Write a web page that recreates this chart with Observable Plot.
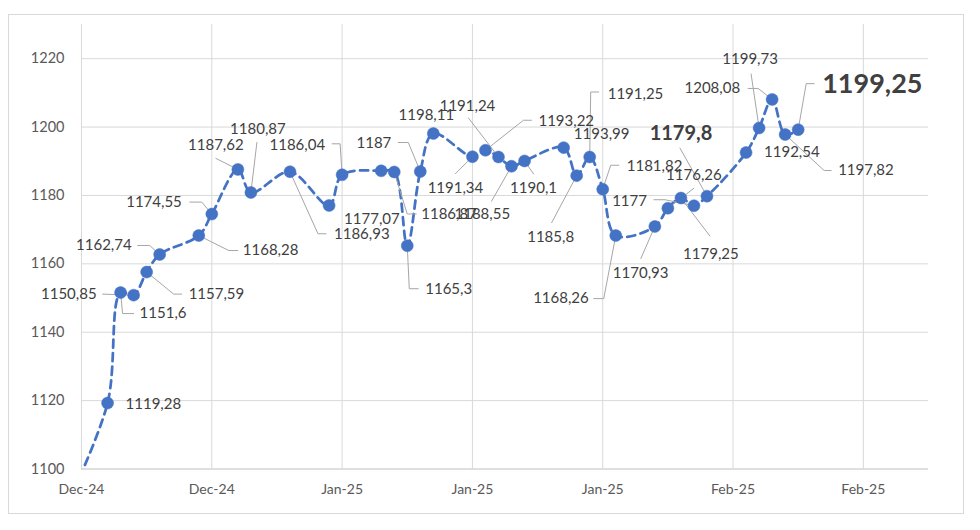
<!DOCTYPE html>
<html>
<head>
<meta charset="utf-8">
<script src="https://cdn.jsdelivr.net/npm/d3@7"></script>
<script src="https://cdn.jsdelivr.net/npm/@observablehq/plot@0.6"></script>
<style>
  html, body { margin: 0; padding: 0; background: #fff; }
  #wrap { position: relative; width: 980px; height: 530px; overflow: hidden; }
  #frame { position: absolute; left: 8px; top: 14px; width: 956px; height: 500px; border: 1.5px solid #d9d9d9; box-sizing: border-box; }
  #chart { position: absolute; left: 0; top: 0; }
  svg { max-width: none !important; }
</style>
</head>
<body>
<div id="wrap"><div id="frame"></div><div id="chart"></div></div>
<script>
// ---- data ----
const dates = ["2024-12-13","2024-12-16","2024-12-17","2024-12-18","2024-12-19","2024-12-20",
  "2024-12-23","2024-12-24","2024-12-26","2024-12-27","2024-12-30","2025-01-02","2025-01-03",
  "2025-01-06","2025-01-07","2025-01-08","2025-01-09","2025-01-10","2025-01-13","2025-01-14",
  "2025-01-15","2025-01-16","2025-01-17","2025-01-20","2025-01-21","2025-01-22","2025-01-23",
  "2025-01-24","2025-01-27","2025-01-28","2025-01-29","2025-01-30","2025-01-31","2025-02-03",
  "2025-02-04","2025-02-05","2025-02-06","2025-02-07"];
const values = [1090.4,1119.28,1151.6,1150.85,1157.59,1162.74,
  1168.28,1174.55,1187.62,1180.87,1186.93,1177.07,1186.04,
  1187.2,1186.87,1165.3,1187,1198.11,1191.34,1193.22,
  1191.24,1188.55,1190.1,1193.99,1185.8,1191.25,1181.82,
  1168.26,1170.93,1176.26,1179.25,1177,1179.8,1192.54,
  1199.73,1208.08,1197.82,1199.25];
const xTickDates = ["2024-12-14","2024-12-24","2025-01-03","2025-01-13","2025-01-23","2025-02-02","2025-02-12"];
const xTickLabels = ["Dec-24","Dec-24","Jan-25","Jan-25","Jan-25","Feb-25","Feb-25"];
const yTicks = [1100,1120,1140,1160,1180,1200,1220];

// ---- label layout (pixel offsets from each point; null = no label) ----
const labelLayout = [
 null,
 {dx:18, dy:1, a:"start"},
 {dx:19, dy:21, a:"start", L:[[0,0],[2,21],[13,21]]},
 {dx:-37, dy:-1, a:"end", L:[[0,0],[-31,-1]]},
 {dx:42, dy:22, a:"start", L:[[0,0],[27,22],[35,22]]},
 {dx:-28, dy:-9, a:"end", L:[[0,0],[-10,-9],[-22,-9]]},
 {dx:44, dy:15, a:"start", L:[[0,0],[30,15],[39,15]]},
 {dx:-30, dy:-12, a:"end", L:[[0,0],[-10,-12],[-22,-12]]},
 {dx:-22, dy:-24, a:"middle", L:[[0,0],[-22,-11]]},
 {dx:7, dy:-63, a:"middle", L:[[0,0],[6,-50]]},
 {dx:44, dy:62, a:"start", L:[[0,0],[28,62],[36,62]]},
 {dx:15, dy:14, a:"start"},
 {dx:-17, dy:-30, a:"end", L:[[0,0],[-2,-31],[-10,-31]]},
 null,
 {dx:27, dy:42, a:"start", L:[[0,0],[13,42],[22,42]]},
 {dx:18, dy:43, a:"start", L:[[0,0],[2,43],[11,43]]},
 {dx:-29, dy:-28, a:"end", L:[[0,0],[-12,-29],[-22,-29]]},
 {dx:-7, dy:-18, a:"middle"},
 {dx:-17, dy:32, a:"middle", L:[[0,0],[-17,17]]},
 {dx:53, dy:-29, a:"start", L:[[0,0],[38,-30],[46,-30]]},
 {dx:-31, dy:-51, a:"middle", L:[[0,0],[-30,-39]]},
 {dx:-57, dy:48, a:"start", L:[[0,0],[-20,35]]},
 {dx:9, dy:27, a:"middle", L:[[0,0],[9,13]]},
 {dx:38, dy:-13, a:"middle"},
 {dx:-26, dy:62, a:"middle", L:[[0,0],[-25,47]]},
 {dx:18, dy:-63, a:"start", L:[[0,0],[1,-65],[9,-65]]},
 {dx:24, dy:-23, a:"start", L:[[0,0],[8,-24],[16,-24]]},
 {dx:-27, dy:63, a:"end", L:[[0,0],[-12,63],[-22,63]]},
 {dx:-42, dy:47, a:"start", L:[[0,0],[-14,32]]},
 {dx:26, dy:-33, a:"middle", L:[[0,0],[26,-20]]},
 {dx:30, dy:56, a:"middle", L:[[0,0],[29,38]]},
 {dx:-47, dy:-5, a:"end", L:[[0,0],[-29,-6],[-40,-6]]},
 {dx:-26, dy:-63, a:"middle", L:[[0,0],[-27,-48]], b:20},
 {dx:18, dy:0, a:"start"},
 {dx:-9, dy:-69, a:"middle", L:[[0,0],[-8,-54]]},
 {dx:-32, dy:-11, a:"end", L:[[0,0],[-14,-11],[-24,-11]]},
 {dx:53, dy:36, a:"start", L:[[0,0],[39,36],[46,36]]},
 {dx:24, dy:-45, a:"start", L:[[0,0],[8,-46],[16,-46]], b:27}
];

// ---- build ----
const W = 980, H = 530, mt = 24, mr = 52, mb = 61.5, ml = 81;
const x0 = new Date("2024-12-14"), x1 = new Date("2025-02-17");
const yDom = [1100, 1230];
const blue = "#4472C4";

const pts = dates.map((d, i) => ({date: new Date(d), value: values[i], i}));
const visible = pts.filter(p => p.date >= x0);

// mirror of the plot's scales to turn pixel offsets into data positions
const xs = d3.scaleUtc([x0, x1], [ml, W - mr]);
const ys = d3.scaleLinear(yDom, [H - mb, mt]);
const fmt = v => String(v).replace(".", ",");

const labelRows = [], leaderRows = [];
pts.forEach((p, i) => {
  const L = labelLayout[i];
  if (!L) return;
  const px = xs(p.date), py = ys(p.value);
  labelRows.push({
    date: xs.invert(px + L.dx), value: ys.invert(py + L.dy),
    text: fmt(p.value), anchor: L.a, size: L.b || 15, bold: !!L.b
  });
  if (L.L) L.L.forEach(([ox, oy]) => leaderRows.push({id: i, date: xs.invert(px + ox), value: ys.invert(py + oy)}));
});

const textMarks = labelRows.map(r => Plot.text([r], {
  x: "date", y: "value", text: "text", textAnchor: r.anchor,
  fontSize: r.size, fontWeight: r.bold ? "bold" : "normal", fill: "#404040"
}));

const chart = Plot.plot({
  width: W, height: H,
  marginTop: mt, marginRight: mr, marginBottom: mb, marginLeft: ml,
  style: {fontFamily: "Lato, 'Open Sans', sans-serif", fontSize: "15px", background: "transparent"},
  x: {type: "utc", domain: [x0, x1]},
  y: {domain: yDom},
  marks: [
    Plot.gridX(xTickDates.map(d => new Date(d)), {stroke: "#d9d9d9", strokeOpacity: 1, strokeWidth: 1}),
    Plot.gridY(yTicks.slice(1), {stroke: "#d9d9d9", strokeOpacity: 1, strokeWidth: 1}),
    Plot.ruleY([yTicks[0]], {stroke: "#bfbfbf", strokeWidth: 1.2}),
    Plot.axisX(xTickDates.map(d => new Date(d)), {
      tickSize: 0, tickPadding: 15, fontSize: 14, color: "#595959",
      tickFormat: (d, i) => xTickLabels[i], label: null
    }),
    Plot.axisY(yTicks, {
      tickSize: 0, tickPadding: 17, fontSize: 14.5, color: "#595959", label: null,
      tickFormat: d => String(d)
    }),
    Plot.line(pts, {
      x: "date", y: "value", curve: "catmull-rom", stroke: blue,
      strokeWidth: 2.75, strokeDasharray: "8,5.5", clip: true
    }),
    Plot.line(leaderRows, {x: "date", y: "value", z: "id", stroke: "#a6a6a6", strokeWidth: 1, curve: "linear"}),
    Plot.dot(visible, {x: "date", y: "value", r: 6, fill: blue, stroke: blue, strokeWidth: 0.5}),
    ...textMarks
  ]
});
document.getElementById("chart").appendChild(chart);
</script>
</body>
</html>
